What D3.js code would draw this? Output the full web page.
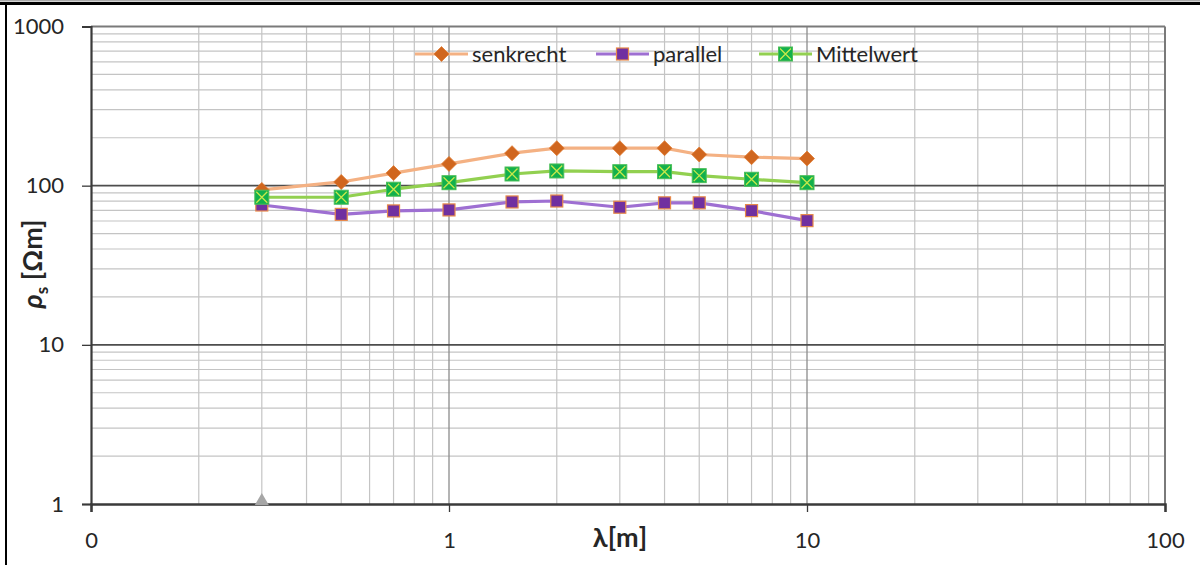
<!DOCTYPE html>
<html><head><meta charset="utf-8">
<script src="https://cdn.jsdelivr.net/npm/d3@7"></script>
<style>
html,body{margin:0;padding:0;background:#fff;}
text{font-family:Lato,"Open Sans",sans-serif;}
</style></head>
<body><svg id="c" width="1200" height="565"></svg>
<script>
const lambda = [0.3, 0.5, 0.7, 1, 1.5, 2, 3, 4, 5, 7, 10];
const senkrecht = [94, 105.5, 120, 137, 160, 172, 172, 172, 157, 151, 148];
const parallel = [75.6, 66, 69.4, 70.4, 79, 80.1, 73.2, 78, 78, 69.7, 60.3];
const mittelwert = [84.6, 84.6, 95, 104.4, 118.4, 123.7, 122.4, 122.4, 115.6, 109.7, 104.4];
const extraX = [0.3];
const extraY = [1];
const xTicks = [0.1, 1, 10, 100];
const xTickLabels = ["0", "1", "10", "100"];
const yTicks = [1, 10, 100, 1000];
const yTickLabels = ["1", "10", "100", "1000"];
const seriesNames = ["senkrecht", "parallel", "Mittelwert"];

const svg = d3.select("#c");
const L = 91, R = 1165, T = 26.5, B = 504;
const x = d3.scaleLog().domain([0.1, 100]).range([L, R]);
const y = d3.scaleLog().domain([1, 1000]).range([B, T]);

// outer frame
svg.append("rect").attr("x",0).attr("y",0).attr("width",1200).attr("height",1.5).attr("fill","#aaa");
svg.append("rect").attr("x",0).attr("y",2).attr("width",1200).attr("height",3).attr("fill","#000");
svg.append("rect").attr("x",5).attr("y",2).attr("width",2).attr("height",563).attr("fill","#000");

// minor grid
const g = svg.append("g");
const minorX = [], minorY = [];
[0.1, 1, 10].forEach(d => { for (let k = 2; k <= 9; k++) minorX.push(d * k); });
[1, 10, 100].forEach(d => { for (let k = 2; k <= 9; k++) minorY.push(d * k); });
g.selectAll(".mx").data(minorX).enter().append("line")
  .attr("x1", d => x(d)).attr("x2", d => x(d)).attr("y1", T).attr("y2", B)
  .attr("stroke", "#c4c4c4").attr("stroke-width", 1.2);
g.selectAll(".my").data(minorY).enter().append("line")
  .attr("y1", d => y(d)).attr("y2", d => y(d)).attr("x1", L).attr("x2", R)
  .attr("stroke", "#c4c4c4").attr("stroke-width", 1.2);
// major grid
g.selectAll(".Mx").data([1, 10]).enter().append("line")
  .attr("x1", d => x(d)).attr("x2", d => x(d)).attr("y1", T).attr("y2", B)
  .attr("stroke", "#8c8c8c").attr("stroke-width", 1.3);
g.selectAll(".My").data([10, 100]).enter().append("line")
  .attr("y1", d => y(d)).attr("y2", d => y(d)).attr("x1", L).attr("x2", R)
  .attr("stroke", "#4d4d4d").attr("stroke-width", 1.6);
// top and right borders
g.append("line").attr("x1", L).attr("x2", R).attr("y1", y(1000)).attr("y2", y(1000)).attr("stroke", "#7a7a7a").attr("stroke-width", 2);
g.append("line").attr("x1", x(100)).attr("x2", x(100)).attr("y1", T).attr("y2", B).attr("stroke", "#7a7a7a").attr("stroke-width", 2);

// axes
const xAxis = d3.axisBottom(x).tickValues(xTicks).tickSize(8).tickFormat((d, i) => xTickLabels[i]);
const xa = svg.append("g").attr("transform", `translate(0,${B})`).call(xAxis);
xa.select(".domain").attr("stroke", "#3a3a3a").attr("stroke-width", 2.5);
xa.selectAll(".tick line").attr("stroke", "#3a3a3a").attr("stroke-width", 1.3);
xa.selectAll(".tick text").attr("font-size", 22).attr("fill", "#262626").attr("y", 44).attr("dy", 0)
  .style("font-family", "Lato, 'Open Sans', sans-serif");

const yAxis = d3.axisLeft(y).tickValues(yTicks).tickSize(9).tickFormat((d, i) => yTickLabels[i]);
const ya = svg.append("g").attr("transform", `translate(${L},0)`).call(yAxis);
ya.select(".domain").attr("stroke", "#3a3a3a").attr("stroke-width", 2.2);
ya.selectAll(".tick line").attr("stroke", "#3a3a3a").attr("stroke-width", 1.3);
ya.selectAll(".tick text").attr("font-size", 22).attr("fill", "#262626").attr("x", -27)
  .style("font-family", "Lato, 'Open Sans', sans-serif");

// axis titles
svg.append("text").attr("x", 620).attr("y", 547).attr("text-anchor", "middle")
  .attr("font-size", 27).attr("font-weight", "bold").attr("fill", "#262626").text("λ[m]");
const yt = svg.append("text").attr("transform", "translate(42,264) rotate(-90)").attr("text-anchor", "middle")
  .attr("font-size", 27).attr("font-weight", "bold").attr("fill", "#262626");
yt.append("tspan").attr("font-style", "italic").text("ρ");
yt.append("tspan").attr("font-size", 17).attr("dy", 6).text("s");
yt.append("tspan").attr("dy", -6).text(" [Ωm]");

// series
const pts = arr => lambda.map((l, i) => [l, arr[i]]);
const line = d3.line().x(d => x(d[0])).y(d => y(d[1]));
const styles = [
  {data: senkrecht, line: "#f4b183", marker: "diamond"},
  {data: parallel, line: "#9e6fd2", marker: "square"},
  {data: mittelwert, line: "#92d050", marker: "xsquare"}
];
function drawMarker(sel, type, cx, cy) {
  if (type === "diamond") {
    sel.append("path").attr("d", `M${cx},${cy-7.5}L${cx+7.5},${cy}L${cx},${cy+7.5}L${cx-7.5},${cy}Z`)
      .attr("fill", "#d0661e").attr("stroke", "#e07b32").attr("stroke-width", 0.8);
  } else if (type === "square") {
    sel.append("rect").attr("x", cx-6).attr("y", cy-6).attr("width", 12).attr("height", 12)
      .attr("fill", "#7030a0").attr("stroke", "#e88a4a").attr("stroke-width", 1.2);
  } else {
    sel.append("rect").attr("x", cx-7).attr("y", cy-7).attr("width", 14).attr("height", 14)
      .attr("fill", "#12b04c").attr("stroke", "#4cbf58").attr("stroke-width", 1);
    sel.append("path").attr("d", `M${cx-5.5},${cy-5.5}L${cx+5.5},${cy+5.5}M${cx+5.5},${cy-5.5}L${cx-5.5},${cy+5.5}`)
      .attr("stroke", "#c8e84a").attr("stroke-width", 1.3);
  }
}
const sg = svg.append("g");
styles.forEach(s => {
  sg.append("path").datum(pts(s.data)).attr("d", line).attr("fill", "none")
    .attr("stroke", s.line).attr("stroke-width", 3.2).attr("stroke-linejoin", "round");
});
styles.forEach(s => {
  pts(s.data).forEach(d => drawMarker(sg, s.marker, x(d[0]), y(d[1])));
});
// extra grey triangle point
extraX.forEach((xv, i) => {
  const cx = x(xv), cy = y(extraY[i]);
  sg.append("path").attr("d", `M${cx},${cy-11}L${cx+7},${cy+1}L${cx-7},${cy+1}Z`).attr("fill", "#a6a6a6");
});

// legend
const legendX = [415, 596, 759];
const leg = svg.append("g");
styles.forEach((s, i) => {
  const lx = legendX[i], ly = 54;
  leg.append("line").attr("x1", lx).attr("x2", lx + 53).attr("y1", ly).attr("y2", ly)
    .attr("stroke", s.line).attr("stroke-width", 3.2);
  drawMarker(leg, s.marker, lx + 26.5, ly);
  leg.append("text").attr("x", lx + 57).attr("y", ly + 7.5).attr("font-size", 22)
    .attr("fill", "#262626").text(seriesNames[i]);
});
</script></body></html>
